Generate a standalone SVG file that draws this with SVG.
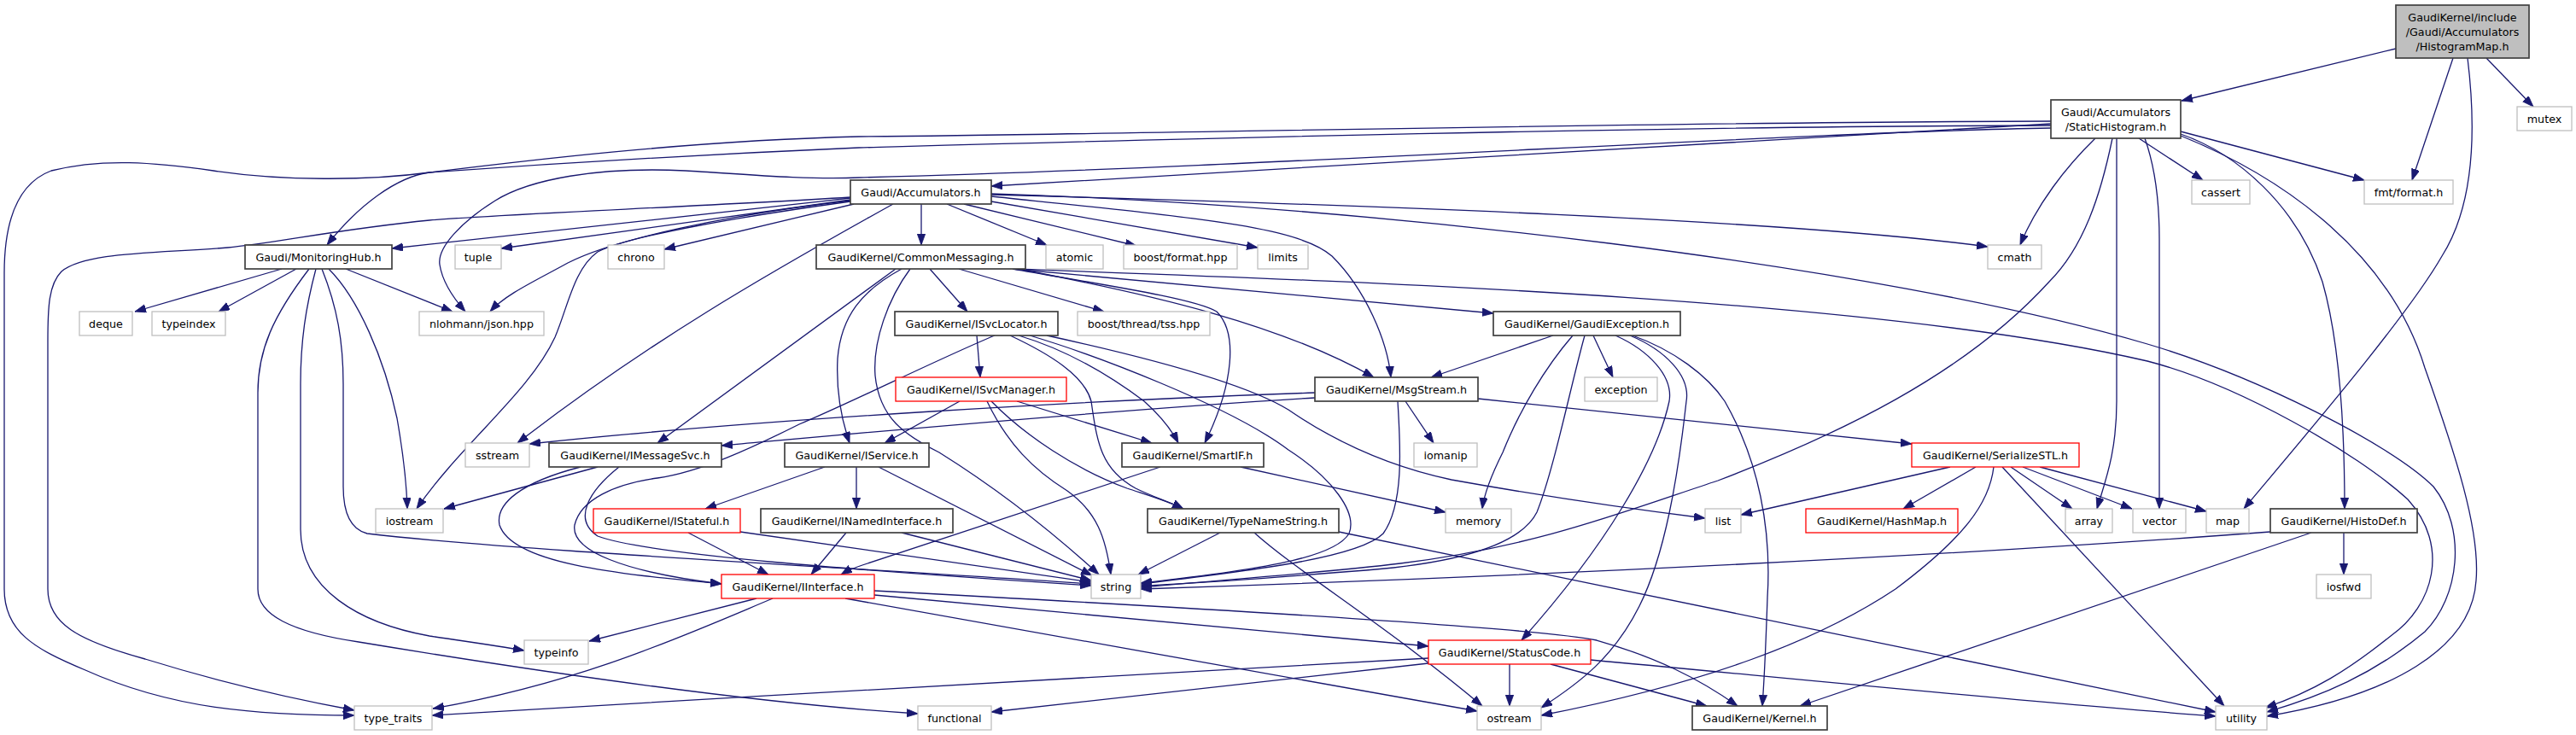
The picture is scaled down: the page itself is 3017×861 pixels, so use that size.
<svg xmlns="http://www.w3.org/2000/svg" width="3017" height="861" viewBox="0 0 3017 861">
<style>
rect{fill:#fff;stroke-width:1.3}
.n rect{stroke:#404040;stroke-width:1.7}
.g rect{stroke:#bfbfbf}
.r rect{stroke:#ff0000}
.root rect{fill:#bfbfbf;stroke:#404040;stroke-width:1.7}
text{font-family:"DejaVu Sans","Liberation Sans",sans-serif;font-size:12.7px;text-anchor:middle;fill:#000}
#edges path{fill:none;stroke:#191970;stroke-width:1.3;marker-end:url(#a)}
</style>
<defs>
<marker id="a" markerUnits="userSpaceOnUse" markerWidth="14" markerHeight="10" refX="13" refY="4.7" orient="auto" viewBox="0 0 14 10"><path d="M0,0 L13,4.7 L0,9.4 z" fill="#191970" stroke="#191970" stroke-width="0.8"/></marker>
</defs>
<rect x="0" y="0" width="3017" height="861" style="fill:#fff;stroke:none"/>
<g id="edges">
<path d="M2806,57 L2555,118"/>
<path d="M2873,68 L2825,211"/>
<path d="M2890,68 C2900,150 2898,240 2860,300 C2820,370 2700,510 2628,596"/>
<path d="M2912,68 L2967,125"/>
<path d="M2402,145 C2100,162 1500,198 1161,218"/>
<path d="M2402,142 C1900,143 1300,158 1006,160 C800,165 600,190 503,202 C465,207 420,240 383,287"/>
<path d="M2402,147 C1900,148 1300,165 1006,173 C800,182 600,195 503,202 C430,212 330,212 250,200 C180,190 120,185 60,200 C20,215 5,260 5,320 L5,690 C5,740 40,760 100,785 C200,830 300,838 415,838"/>
<path d="M2402,150 C2100,155 1500,195 1006,208 C940,211 860,203 803,200 C700,195 620,210 580,235 C540,260 512,290 515,310 C518,330 530,348 545,365"/>
<path d="M2454,162 C2420,195 2385,240 2366,287"/>
<path d="M2474,162 C2460,230 2440,290 2400,330 C2300,440 2150,510 2012,563 C1900,600 1800,640 1640,660 C1540,672 1420,680 1336,688"/>
<path d="M2479,162 L2479,470 C2479,530 2466,562 2456,596"/>
<path d="M2512,162 C2522,190 2529,230 2529,280 L2529,596"/>
<path d="M2505,162 L2580,211"/>
<path d="M2554,154 L2769,211"/>
<path d="M2554,157 C2620,180 2690,240 2720,330 C2740,400 2746,500 2746,596"/>
<path d="M2554,159 C2680,210 2800,300 2840,431 C2875,530 2905,620 2900,680 C2895,760 2800,815 2655,839"/>
<path d="M996,232 C800,255 600,275 459,291"/>
<path d="M996,234 L587,291"/>
<path d="M1000,239 L778,292"/>
<path d="M996,235 C850,252 720,280 665,308 C625,330 592,345 574,365"/>
<path d="M996,231 C800,243 600,250 503,258 C400,268 320,285 267,290 C180,297 100,295 72,318 C57,333 56,360 56,400 L56,690 C56,730 90,750 170,772 C260,800 340,818 415,832"/>
<path d="M996,236 C880,252 740,275 700,295 C672,315 665,360 650,395 C620,460 540,520 488,596"/>
<path d="M1046,239 C900,320 760,400 606,519"/>
<path d="M1079,239 L1079,287"/>
<path d="M1109,239 L1226,287"/>
<path d="M1129,239 L1331,288"/>
<path d="M1161,236 L1473,290"/>
<path d="M1161,228 C1600,240 2100,258 2328,289"/>
<path d="M1161,227 C1600,240 2200,310 2515,403 C2640,440 2800,520 2850,570 C2890,620 2880,700 2840,740 C2780,790 2720,815 2655,834"/>
<path d="M1161,230 C1400,255 1520,265 1560,300 C1600,340 1625,400 1629,442"/>
<path d="M330,315 L158,365"/>
<path d="M347,315 L256,365"/>
<path d="M405,315 L530,365"/>
<path d="M385,315 C420,350 450,420 465,490 C472,530 476,560 477,596"/>
<path d="M377,315 C395,360 402,400 402,450 L402,570 C402,600 410,620 430,625 C600,645 1000,665 1278,684"/>
<path d="M370,315 C358,360 352,400 352,450 L352,620 C352,690 420,730 503,745 C550,752 585,757 614,762"/>
<path d="M362,315 C320,370 302,410 302,460 L302,690 C302,720 340,740 420,752 C650,790 900,825 1075,836"/>
<path d="M1049,315 L770,519"/>
<path d="M1056,315 C1010,340 985,370 981,420 C979,460 985,490 995,519"/>
<path d="M1066,315 C1040,350 1022,400 1025,440 C1030,490 1060,510 1100,530 C1180,580 1240,630 1287,673"/>
<path d="M1089,315 L1133,365"/>
<path d="M1123,315 L1293,365"/>
<path d="M1186,315 C1400,335 1600,352 1749,367"/>
<path d="M1186,315 C1600,330 2200,350 2515,423 C2620,450 2760,530 2820,585 C2870,640 2850,710 2800,745 C2750,785 2710,810 2653,829"/>
<path d="M1186,315 C1300,335 1400,350 1425,365 C1450,390 1445,450 1411,519"/>
<path d="M1192,315 C1350,345 1500,380 1609,442"/>
<path d="M1165,393 C1100,420 1000,470 936,497 C880,525 820,553 770,560 C720,567 680,585 673,615 C668,645 730,670 845,684"/>
<path d="M1144,393 L1148,442"/>
<path d="M1183,393 C1230,415 1270,440 1278,470 C1285,520 1290,550 1330,572 C1350,582 1370,588 1386,596"/>
<path d="M1193,393 C1250,410 1300,440 1340,470 C1360,488 1372,503 1380,519"/>
<path d="M1206,393 C1280,415 1440,475 1509,527 C1560,560 1590,600 1580,625 C1565,650 1500,665 1336,683"/>
<path d="M1226,393 C1350,420 1460,450 1509,480 C1560,515 1620,545 1700,562 C1800,580 1900,595 1997,607"/>
<path d="M1124,470 L1036,519"/>
<path d="M1156,470 C1180,520 1210,550 1250,575 C1285,600 1295,630 1301,673"/>
<path d="M1161,470 C1200,510 1260,550 1320,572 C1350,582 1370,588 1386,596"/>
<path d="M1191,470 L1349,519"/>
<path d="M966,547 L826,596"/>
<path d="M1003,547 L1003,596"/>
<path d="M1029,547 L1279,674"/>
<path d="M806,624 L900,673"/>
<path d="M867,623 L1278,682"/>
<path d="M991,624 L950,673"/>
<path d="M1056,624 L1278,680"/>
<path d="M700,547 L520,596"/>
<path d="M680,547 C610,565 580,590 585,615 C600,660 720,672 845,684"/>
<path d="M725,547 C690,575 670,608 700,628 C760,650 1000,668 1278,686"/>
<path d="M1819,393 L1676,442"/>
<path d="M1842,393 C1810,430 1780,480 1760,530 C1745,560 1738,580 1736,596"/>
<path d="M1856,393 C1840,450 1820,550 1800,600 C1780,640 1700,660 1600,668 C1500,676 1400,684 1336,686"/>
<path d="M1866,393 L1889,442"/>
<path d="M1892,393 C1930,410 1960,440 1955,470 C1940,540 1880,640 1782,750"/>
<path d="M1909,393 C1950,410 1980,440 1975,470 C1965,560 1950,650 1920,710 C1890,770 1850,800 1805,829"/>
<path d="M1912,393 C1960,410 2000,440 2020,470 C2060,540 2075,620 2070,700 C2068,760 2066,800 2064,827"/>
<path d="M1540,460 C1300,468 900,490 620,520"/>
<path d="M1540,466 C1300,480 1000,508 845,522"/>
<path d="M1637,470 C1640,520 1645,590 1620,625 C1590,655 1450,670 1336,684"/>
<path d="M1646,470 L1679,519"/>
<path d="M1731,467 L2239,520"/>
<path d="M2284,547 L2039,603"/>
<path d="M2314,547 L2229,596"/>
<path d="M2335,547 C2330,590 2300,630 2220,690 C2130,750 2000,800 1805,838"/>
<path d="M2345,547 L2605,827"/>
<path d="M2355,547 L2427,596"/>
<path d="M2369,547 L2497,596"/>
<path d="M2389,547 L2584,599"/>
<path d="M1429,624 L1333,673"/>
<path d="M1469,624 C1520,670 1620,730 1736,827"/>
<path d="M1568,623 L2595,834"/>
<path d="M2659,623 C2300,650 1800,675 1336,690"/>
<path d="M2707,624 L2108,827"/>
<path d="M2745,624 L2745,673"/>
<path d="M1673,771 C1400,785 900,815 506,838"/>
<path d="M1673,777 L1161,834"/>
<path d="M1768,778 L1768,827"/>
<path d="M1816,778 L1999,827"/>
<path d="M1863,773 C2100,795 2400,825 2595,839"/>
<path d="M886,701 L690,751"/>
<path d="M905,701 C800,745 680,800 507,830"/>
<path d="M1024,692 C1400,712 1800,735 1870,750 C1940,770 1990,795 2035,827"/>
<path d="M1024,697 L1673,757"/>
<path d="M990,701 L1730,833"/>
<path d="M1359,547 L1010,662 Q995,667 985,673"/>
<path d="M1453,547 L1693,600"/>
</g>
<g id="node-root" class="root"><rect x="2806" y="6" width="156" height="62"/><text x="2884" y="25">GaudiKernel/include</text><text x="2884" y="42">/Gaudi/Accumulators</text><text x="2884" y="59">/HistogramMap.h</text></g>
<g id="node-StaticHistogram" class="n"><rect x="2402" y="117" width="152" height="45"/><text x="2478" y="136">Gaudi/Accumulators</text><text x="2478" y="153">/StaticHistogram.h</text></g>
<g id="node-mutex" class="g"><rect x="2948" y="125" width="64" height="28"/><text x="2980" y="143.5">mutex</text></g>
<g id="node-Accumulators" class="n"><rect x="996" y="211" width="165" height="28"/><text x="1078.5" y="229.5">Gaudi/Accumulators.h</text></g>
<g id="node-cassert" class="g"><rect x="2567" y="211" width="68" height="28"/><text x="2601" y="229.5">cassert</text></g>
<g id="node-fmt" class="g"><rect x="2769" y="211" width="104" height="28"/><text x="2821" y="229.5">fmt/format.h</text></g>
<g id="node-MonitoringHub" class="n"><rect x="287" y="287" width="172" height="28"/><text x="373" y="305.5">Gaudi/MonitoringHub.h</text></g>
<g id="node-tuple" class="g"><rect x="533" y="287" width="54" height="28"/><text x="560" y="305.5">tuple</text></g>
<g id="node-chrono" class="g"><rect x="712" y="287" width="66" height="28"/><text x="745" y="305.5">chrono</text></g>
<g id="node-CommonMessaging" class="n"><rect x="956" y="287" width="245" height="28"/><text x="1078.5" y="305.5">GaudiKernel/CommonMessaging.h</text></g>
<g id="node-atomic" class="g"><rect x="1225" y="287" width="67" height="28"/><text x="1258.5" y="305.5">atomic</text></g>
<g id="node-boostformat" class="g"><rect x="1316" y="287" width="133" height="28"/><text x="1382.5" y="305.5">boost/format.hpp</text></g>
<g id="node-limits" class="g"><rect x="1473" y="287" width="59" height="28"/><text x="1502.5" y="305.5">limits</text></g>
<g id="node-cmath" class="g"><rect x="2328" y="287" width="63" height="28"/><text x="2359.5" y="305.5">cmath</text></g>
<g id="node-deque" class="g"><rect x="93" y="365" width="62" height="28"/><text x="124" y="383.5">deque</text></g>
<g id="node-typeindex" class="g"><rect x="178" y="365" width="86" height="28"/><text x="221" y="383.5">typeindex</text></g>
<g id="node-json" class="g"><rect x="491" y="365" width="146" height="28"/><text x="564" y="383.5">nlohmann/json.hpp</text></g>
<g id="node-ISvcLocator" class="n"><rect x="1048" y="365" width="191" height="28"/><text x="1143.5" y="383.5">GaudiKernel/ISvcLocator.h</text></g>
<g id="node-tss" class="g"><rect x="1262" y="365" width="155" height="28"/><text x="1339.5" y="383.5">boost/thread/tss.hpp</text></g>
<g id="node-GaudiException" class="n"><rect x="1749" y="365" width="219" height="28"/><text x="1858.5" y="383.5">GaudiKernel/GaudiException.h</text></g>
<g id="node-ISvcManager" class="r"><rect x="1049" y="442" width="200" height="28"/><text x="1149" y="460.5">GaudiKernel/ISvcManager.h</text></g>
<g id="node-MsgStream" class="n"><rect x="1540" y="442" width="191" height="28"/><text x="1635.5" y="460.5">GaudiKernel/MsgStream.h</text></g>
<g id="node-exception" class="g"><rect x="1856" y="442" width="85" height="28"/><text x="1898.5" y="460.5">exception</text></g>
<g id="node-sstream" class="g"><rect x="545" y="519" width="75" height="28"/><text x="582.5" y="537.5">sstream</text></g>
<g id="node-IMessageSvc" class="n"><rect x="643" y="519" width="202" height="28"/><text x="744" y="537.5">GaudiKernel/IMessageSvc.h</text></g>
<g id="node-IService" class="n"><rect x="919" y="519" width="169" height="28"/><text x="1003.5" y="537.5">GaudiKernel/IService.h</text></g>
<g id="node-SmartIF" class="n"><rect x="1314" y="519" width="166" height="28"/><text x="1397" y="537.5">GaudiKernel/SmartIF.h</text></g>
<g id="node-iomanip" class="g"><rect x="1656" y="519" width="74" height="28"/><text x="1693" y="537.5">iomanip</text></g>
<g id="node-SerializeSTL" class="r"><rect x="2239" y="519" width="196" height="28"/><text x="2337" y="537.5">GaudiKernel/SerializeSTL.h</text></g>
<g id="node-iostream" class="g"><rect x="440" y="596" width="79" height="28"/><text x="479.5" y="614.5">iostream</text></g>
<g id="node-IStateful" class="r"><rect x="695" y="596" width="172" height="28"/><text x="781" y="614.5">GaudiKernel/IStateful.h</text></g>
<g id="node-INamedInterface" class="n"><rect x="891" y="596" width="225" height="28"/><text x="1003.5" y="614.5">GaudiKernel/INamedInterface.h</text></g>
<g id="node-TypeNameString" class="n"><rect x="1344" y="596" width="224" height="28"/><text x="1456" y="614.5">GaudiKernel/TypeNameString.h</text></g>
<g id="node-memory" class="g"><rect x="1693" y="596" width="77" height="28"/><text x="1731.5" y="614.5">memory</text></g>
<g id="node-list" class="g"><rect x="1997" y="596" width="42" height="28"/><text x="2018" y="614.5">list</text></g>
<g id="node-HashMap" class="r"><rect x="2115" y="596" width="178" height="28"/><text x="2204" y="614.5">GaudiKernel/HashMap.h</text></g>
<g id="node-array" class="g"><rect x="2419" y="596" width="55" height="28"/><text x="2446.5" y="614.5">array</text></g>
<g id="node-vector" class="g"><rect x="2498" y="596" width="62" height="28"/><text x="2529" y="614.5">vector</text></g>
<g id="node-map" class="g"><rect x="2584" y="596" width="50" height="28"/><text x="2609" y="614.5">map</text></g>
<g id="node-HistoDef" class="n"><rect x="2659" y="596" width="172" height="28"/><text x="2745" y="614.5">GaudiKernel/HistoDef.h</text></g>
<g id="node-IInterface" class="r"><rect x="845" y="673" width="179" height="28"/><text x="934.5" y="691.5">GaudiKernel/IInterface.h</text></g>
<g id="node-string" class="g"><rect x="1278" y="673" width="58" height="28"/><text x="1307" y="691.5">string</text></g>
<g id="node-iosfwd" class="g"><rect x="2713" y="673" width="64" height="28"/><text x="2745" y="691.5">iosfwd</text></g>
<g id="node-typeinfo" class="g"><rect x="614" y="750" width="75" height="28"/><text x="651.5" y="768.5">typeinfo</text></g>
<g id="node-StatusCode" class="r"><rect x="1673" y="750" width="190" height="28"/><text x="1768" y="768.5">GaudiKernel/StatusCode.h</text></g>
<g id="node-type_traits" class="g"><rect x="415" y="827" width="91" height="28"/><text x="460.5" y="845.5">type_traits</text></g>
<g id="node-functional" class="g"><rect x="1075" y="827" width="86" height="28"/><text x="1118" y="845.5">functional</text></g>
<g id="node-ostream" class="g"><rect x="1730" y="827" width="75" height="28"/><text x="1767.5" y="845.5">ostream</text></g>
<g id="node-Kernel" class="n"><rect x="1982" y="827" width="158" height="28"/><text x="2061" y="845.5">GaudiKernel/Kernel.h</text></g>
<g id="node-utility" class="g"><rect x="2595" y="827" width="60" height="28"/><text x="2625" y="845.5">utility</text></g>
</svg>
